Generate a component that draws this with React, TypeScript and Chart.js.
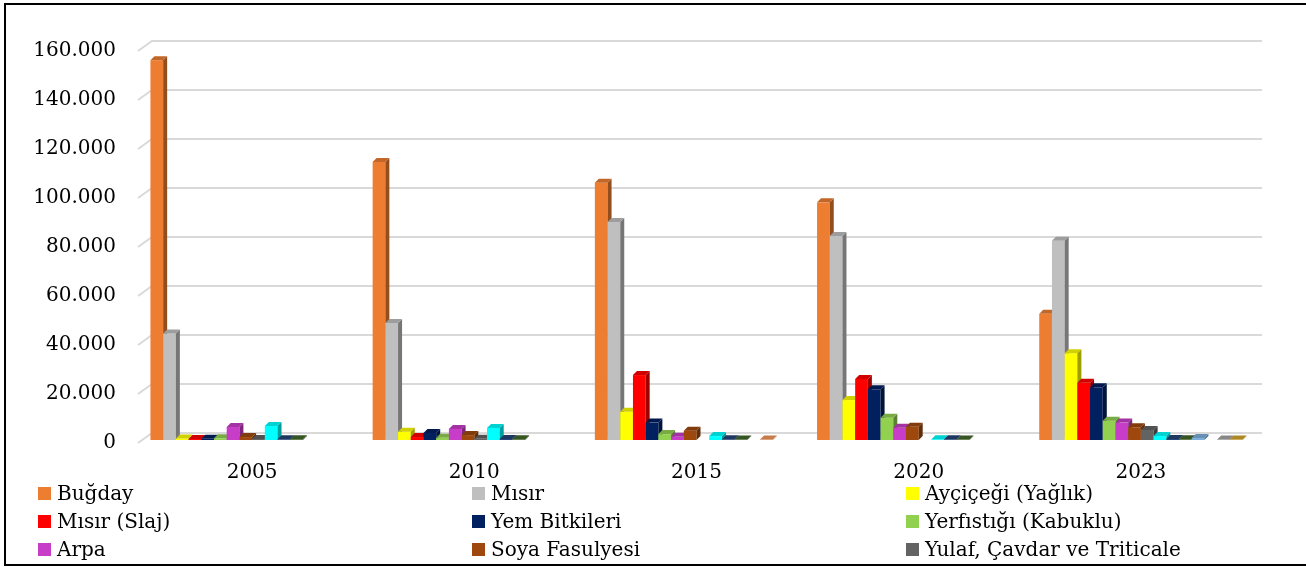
import React, { useEffect, useRef } from "react";
import { Chart, registerables } from "chart.js";

Chart.register(...registerables);

// ---------- data ----------
const years = ["2005", "2010", "2015", "2020", "2023"];

const seriesNames = [
  "Buğday",
  "Mısır",
  "Ayçiçeği (Yağlık)",
  "Mısır (Slaj)",
  "Yem Bitkileri",
  "Yerfıstığı (Kabuklu)",
  "Arpa",
  "Soya Fasulyesi",
  "Yulaf, Çavdar ve Triticale",
  "Seri 10",
  "Seri 11",
  "Seri 12",
  "Seri 13",
  "Seri 14",
  "Seri 15",
  "Seri 16",
];

const bugday = [155000, 113500, 105000, 97000, 51500];
const misir = [43500, 47800, 89000, 83300, 81300];
const aycicegi = [600, 3400, 11500, 16300, 35400];
const misirSlaj = [400, 1200, 26500, 24900, 23400];
const yemBitkileri = [500, 2900, 7100, 20700, 21500];
const yerfistigi = [700, 900, 2400, 9100, 7900];
const arpa = [5300, 4500, 1300, 5000, 7100];
const soya = [1200, 2000, 3800, 5400, 5200];
const yulaf = [400, 500, null, null, 4100];
const seri10 = [5700, 4900, 1600, 300, 1600];
const seri11 = [300, 400, 300, 300, 400];
const seri12 = [300, 300, 200, 200, 300];
const seri13 = [null, null, null, null, 800];
const seri14 = [null, null, 200, null, null];
const seri15 = [null, null, null, null, 200];
const seri16 = [null, null, null, null, 200];

const seriesValues = [
  bugday, misir, aycicegi, misirSlaj, yemBitkileri, yerfistigi, arpa, soya,
  yulaf, seri10, seri11, seri12, seri13, seri14, seri15, seri16,
];

const seriesColors = [
  "#ED7D31", "#BFBFBF", "#FFFF00", "#FF0000", "#002060", "#92D050",
  "#C83DC8", "#9E480E", "#636363", "#00FFFF", "#264478", "#43682B",
  "#7CAFDD", "#F1975A", "#A5A5A5", "#D6A62E",
];

const legendCount = 9;
const yTickStep = 20000;
const yMax = 160000;

// ---------- helpers ----------
function shade(hex: string, f: number): string {
  const n = parseInt(hex.slice(1), 16);
  const r = Math.round(((n >> 16) & 255) * f);
  const g = Math.round(((n >> 8) & 255) * f);
  const b = Math.round((n & 255) * f);
  return `rgb(${r},${g},${b})`;
}

function fmt(v: number): string {
  return String(Math.round(v)).replace(/\B(?=(\d{3})+(?!\d))/g, ".");
}

const DEPTH = 4;

const grid3d = {
  id: "grid3d",
  beforeDatasetsDraw(chart: any) {
    const { ctx, chartArea } = chart;
    const ys = chart.scales.y;
    ctx.save();
    ctx.strokeStyle = "#D9D9D9";
    ctx.lineWidth = 2;
    for (let v = 0; v <= yMax; v += yTickStep) {
      const y = ys.getPixelForValue(v);
      ctx.beginPath();
      ctx.moveTo(chartArea.left - 3, y + 3);
      ctx.lineTo(chartArea.left + 11, y - 7);
      ctx.lineTo(chartArea.right + 10, y - 7);
      ctx.stroke();
    }
    ctx.restore();
  },
};

const bars3d = {
  id: "bars3d",
  afterDatasetsDraw(chart: any) {
    const ctx = chart.ctx;
    const n = chart.data.labels.length;
    ctx.save();
    for (let i = 0; i < n; i++) {
      chart.data.datasets.forEach((ds: any, di: number) => {
        const v = ds.data[i];
        if (v == null) return;
        const el = chart.getDatasetMeta(di).data[i];
        if (!el) return;
        const { x, y, base, width } = el.getProps(["x", "y", "base", "width"], true);
        const x0 = x - width / 2;
        const x1 = x + width / 2;
        const col = seriesColors[di];
        ctx.fillStyle = col;
        ctx.fillRect(x0, y, width, base - y);
        ctx.fillStyle = shade(col, 0.62);
        ctx.beginPath();
        ctx.moveTo(x1, y);
        ctx.lineTo(x1 + DEPTH, y - DEPTH);
        ctx.lineTo(x1 + DEPTH, base - DEPTH);
        ctx.lineTo(x1, base);
        ctx.closePath();
        ctx.fill();
        ctx.fillStyle = shade(col, 0.82);
        ctx.beginPath();
        ctx.moveTo(x0, y);
        ctx.lineTo(x0 + DEPTH, y - DEPTH);
        ctx.lineTo(x1 + DEPTH, y - DEPTH);
        ctx.lineTo(x1, y);
        ctx.closePath();
        ctx.fill();
      });
    }
    ctx.restore();
  },
};

export default function App() {
  const ref = useRef<HTMLCanvasElement | null>(null);

  useEffect(() => {
    if (!ref.current) return;
    const font = { family: "'DejaVu Serif'", size: 20 };
    const chart = new Chart(ref.current, {
      type: "bar",
      data: {
        labels: years,
        datasets: seriesNames.map((name, i) => ({
          label: name,
          data: seriesValues[i],
          backgroundColor: "rgba(0,0,0,0)",
          borderWidth: 0,
          categoryPercentage: 0.915,
          barPercentage: 1.0,
        })),
      },
      options: {
        animation: false,
        responsive: false,
        devicePixelRatio: 1,
        layout: { padding: { left: 0, right: 54, top: 48, bottom: 0 } },
        plugins: {
          legend: { display: false },
          tooltip: { enabled: false },
          title: { display: false },
        },
        scales: {
          x: {
            grid: { display: false, drawTicks: false },
            border: { display: false },
            ticks: { font, color: "#000", padding: 21 },
            afterFit: (s: any) => {
              s.height = 127;
            },
          },
          y: {
            min: 0,
            max: yMax,
            grid: { display: false, drawTicks: false },
            border: { display: false },
            ticks: {
              stepSize: yTickStep,
              font,
              color: "#000",
              padding: 25,
              labelOffset: 3,
              callback: (v: any) => fmt(Number(v)),
            },
            afterFit: (s: any) => {
              s.width = 141;
            },
          },
        },
      },
      plugins: [grid3d, bars3d],
    });
    return () => chart.destroy();
  }, []);

  return (
    <div
      style={{
        position: "fixed",
        left: 0,
        top: 0,
        width: 1306,
        height: 567,
        overflow: "hidden",
        background: "#fff",
      }}
    >
      <div
        style={{
          position: "absolute",
          left: 4,
          top: 3,
          width: 1400,
          height: 563,
          border: "2px solid #000",
          boxSizing: "border-box",
        }}
      />
      <canvas
        ref={ref}
        width={1306}
        height={567}
        style={{ position: "absolute", left: 0, top: 0, width: 1306, height: 567 }}
      />
      <div
        style={{
          position: "absolute",
          left: 38,
          top: 479,
          display: "grid",
          gridTemplateColumns: "repeat(3, 434px)",
          gridAutoRows: "28px",
          fontFamily: "'DejaVu Serif'",
          fontSize: 20,
          color: "#000",
        }}
      >
        {seriesNames.slice(0, legendCount).map((name, i) => (
          <div key={name} style={{ display: "flex", alignItems: "center", whiteSpace: "nowrap" }}>
            <span
              style={{
                display: "inline-block",
                width: 13,
                height: 13,
                background: seriesColors[i],
                marginRight: 6,
                flex: "none",
              }}
            />
            <span style={{ lineHeight: "28px" }}>{name}</span>
          </div>
        ))}
      </div>
    </div>
  );
}
